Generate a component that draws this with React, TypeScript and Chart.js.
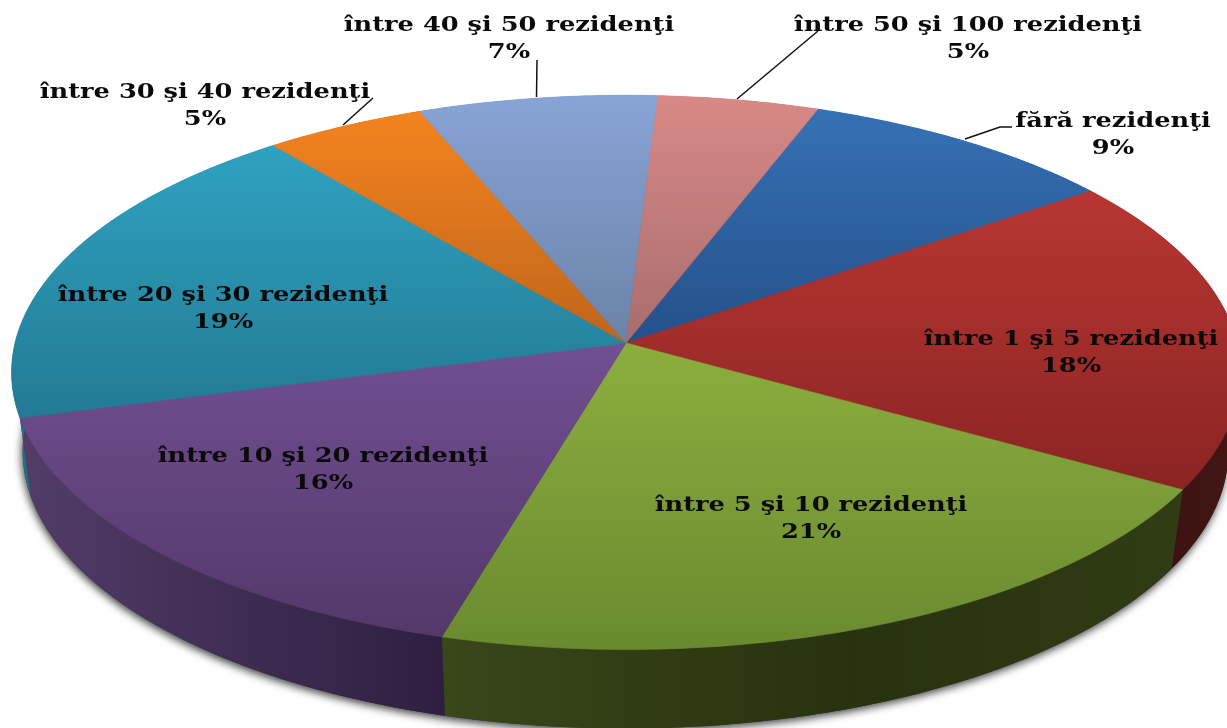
import React, { useEffect, useRef } from "react";
import { Chart, registerables } from "chart.js";

Chart.register(...registerables);

const categories = [
  "fără rezidenţi",
  "între 1 şi 5 rezidenţi",
  "între 5 şi 10 rezidenţi",
  "între 10 şi 20 rezidenţi",
  "între 20 şi 30 rezidenţi",
  "între 30 şi 40 rezidenţi",
  "între 40 şi 50 rezidenţi",
  "între 50 şi 100 rezidenţi",
];
const shares = [9.36, 18.49, 20.9, 16.36, 18.53, 4.7, 6.97, 4.69];

const faceLight = ["#3671b5", "#b83632", "#8cae3e", "#714f93", "#2fa2c1", "#f4831f", "#88a3d6", "#d88987"];
const faceDark = ["#25508a", "#8a2423", "#6a8a30", "#533869", "#237a93", "#bf651b", "#6b83a8", "#a86d6d"];
const wallLeft = ["#1d3a60", "#3a1210", "#3a4719", "#523c68", "#1f6f86", "#8a4a12", "#56698a", "#84555a"];
const wallMid = ["#1d3a60", "#3c1311", "#28320f", "#3d2c52", "#1f6f86", "#8a4a12", "#56698a", "#84555a"];
const wallRight = ["#1d3a60", "#421613", "#303c14", "#2e1f40", "#1f6f86", "#8a4a12", "#56698a", "#84555a"];

const labelCenters = [
  [1113, 127],
  [1071, 345],
  [811, 511],
  [323, 462],
  [223, 301],
  [205, 98],
  [509, 31],
  [968, 31],
];
const leaders = [
  [[965, 139], [1000, 127], [1012, 127]],
  null,
  null,
  null,
  null,
  [[343, 125], [373, 98]],
  [[536.5, 97], [537, 60]],
  [[737, 99], [818, 31]],
];

const TOP = { ax: 626, ay: 343, A: 611, B: 274, k: -0.106, sx: 1 };
const BASE = { ax: 625.5, ay: 422, A: 611, B: 274, k: -0.106, sx: 0.981 };
const FONT = 'bold 20px "DejaVu Serif"';
const LINE_GAP = 27;
const X_STRETCH = 1.284;

type Proj = typeof TOP;
const project = (p: Proj, t: number): [number, number] => {
  const w = 1 + p.k * Math.sin(t);
  return [p.ax + (p.sx * p.A * Math.cos(t)) / w, p.ay + (p.B * Math.sin(t)) / w];
};

const arcPoints = (p: Proj, a: number, b: number) => {
  const n = Math.max(4, Math.ceil((b - a) * 90));
  const pts: [number, number][] = [];
  for (let i = 0; i <= n; i++) pts.push(project(p, a + ((b - a) * i) / n));
  return pts;
};

const perspectivePie = {
  id: "perspectivePie",
  beforeDatasetDraw(chart: any) {
    const { ctx } = chart;
    const arcs = chart.getDatasetMeta(0).data;

    // soft shadow of the whole silhouette
    ctx.save();
    ctx.shadowColor = "rgba(0,0,0,0.75)";
    ctx.shadowBlur = 8;
    ctx.shadowOffsetY = 3;
    ctx.shadowOffsetX = -1;
    ctx.fillStyle = "#333";
    ctx.beginPath();
    arcPoints(BASE, 0, Math.PI * 2).forEach(([x, y], i) => (i ? ctx.lineTo(x, y) : ctx.moveTo(x, y)));
    ctx.closePath();
    ctx.fill();
    ctx.restore();

    // side walls
    arcs.forEach((arc: any, i: number) => {
      const top = arcPoints(TOP, arc.startAngle, arc.endAngle);
      const base = arcPoints(BASE, arc.startAngle, arc.endAngle);
      const xs = top.concat(base).map((q) => q[0]);
      const g = ctx.createLinearGradient(Math.min(...xs), 0, Math.max(...xs), 0);
      g.addColorStop(0, wallLeft[i]);
      g.addColorStop(0.55, wallMid[i]);
      g.addColorStop(1, wallRight[i]);
      ctx.fillStyle = g;
      ctx.beginPath();
      top.forEach(([x, y], j) => (j ? ctx.lineTo(x, y) : ctx.moveTo(x, y)));
      base.reverse().forEach(([x, y]) => ctx.lineTo(x, y));
      ctx.closePath();
      ctx.fill();
    });

    // top faces
    arcs.forEach((arc: any, i: number) => {
      const top = arcPoints(TOP, arc.startAngle, arc.endAngle);
      const ys = top.map((q) => q[1]).concat(TOP.ay);
      const g = ctx.createLinearGradient(0, Math.min(...ys), 0, Math.max(...ys));
      g.addColorStop(0, faceLight[i]);
      g.addColorStop(1, faceDark[i]);
      ctx.fillStyle = g;
      ctx.strokeStyle = g;
      ctx.lineWidth = 0.6;
      ctx.beginPath();
      ctx.moveTo(TOP.ax, TOP.ay);
      top.forEach(([x, y]) => ctx.lineTo(x, y));
      ctx.closePath();
      ctx.fill();
      ctx.stroke();
    });
    return false;
  },
  afterDatasetsDraw(chart: any) {
    const { ctx } = chart;
    ctx.save();
    ctx.strokeStyle = "#111";
    ctx.lineWidth = 1.5;
    leaders.forEach((line) => {
      if (!line) return;
      ctx.beginPath();
      line.forEach(([x, y], j) => (j ? ctx.lineTo(x, y) : ctx.moveTo(x, y)));
      ctx.stroke();
    });
    ctx.fillStyle = "#0a0a0a";
    ctx.font = FONT;
    ctx.textAlign = "center";
    ctx.textBaseline = "alphabetic";
    categories.forEach((name, i) => {
      const [x, y] = labelCenters[i];
      ctx.save();
      ctx.translate(x, y);
      ctx.scale(X_STRETCH, 1);
      ctx.fillText(name, 0, 0);
      ctx.fillText(`${Math.round(shares[i])}%`, 0, LINE_GAP);
      ctx.restore();
    });
    ctx.restore();
  },
};

export default function App() {
  const ref = useRef<HTMLCanvasElement>(null);
  useEffect(() => {
    const chart = new Chart(ref.current!, {
      type: "pie",
      data: {
        labels: categories,
        datasets: [{ data: shares, backgroundColor: faceLight, borderWidth: 0 }],
      },
      options: {
        animation: false,
        responsive: false,
        rotation: 20.2,
        plugins: { legend: { display: false }, tooltip: { enabled: false } },
      },
      plugins: [perspectivePie],
    } as any);
    return () => chart.destroy();
  }, []);
  return (
    <canvas
      ref={ref}
      width={1227}
      height={728}
      style={{ position: "fixed", left: 0, top: 0, display: "block", filter: "blur(0.5px)" }}
    />
  );
}
